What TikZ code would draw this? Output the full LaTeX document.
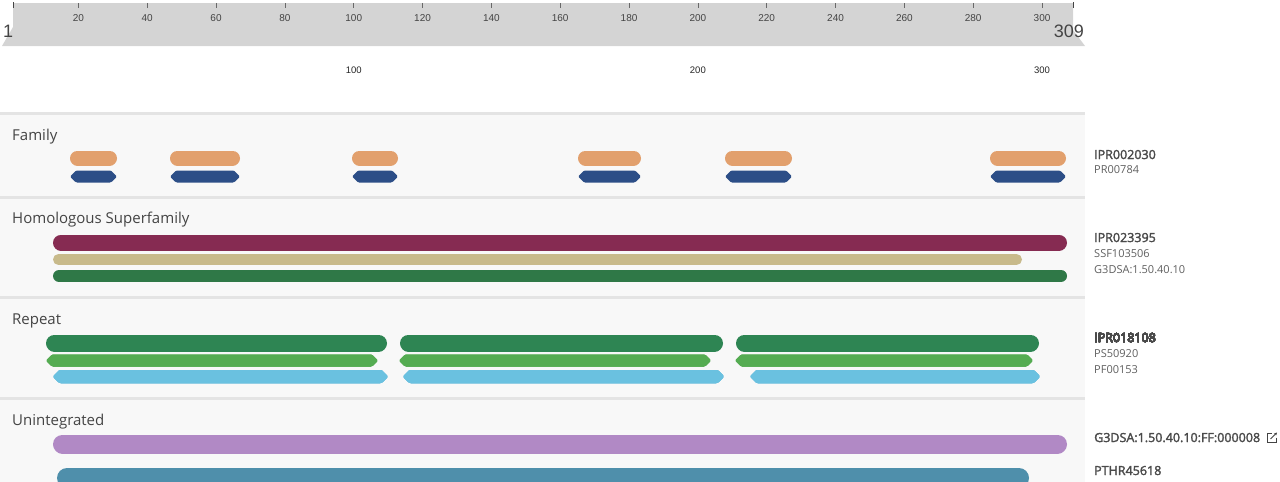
\documentclass[tikz,border=0pt]{standalone}
\usepackage{fontspec}
\setmainfont{Open Sans}
\newfontfamily\rulerfont{Liberation Sans}
\newfontfamily\accfont{Open Sans}[FakeBold=2.2]
\usetikzlibrary{arrows.meta}

\definecolor{rulergray}{HTML}{D4D4D4}
\definecolor{panelbg}{HTML}{F8F8F8}
\definecolor{sepgray}{HTML}{E4E4E4}
\definecolor{txtgray}{HTML}{444444}
\definecolor{accgray}{HTML}{4A4A4A}
\definecolor{famorange}{HTML}{E2A06D}
\definecolor{famblue}{HTML}{2C4E87}
\definecolor{supmaroon}{HTML}{862B52}
\definecolor{suptan}{HTML}{C8BA8B}
\definecolor{supgreen}{HTML}{2F7847}
\definecolor{repgreen}{HTML}{2E8553}
\definecolor{replight}{HTML}{55AC52}
\definecolor{repblue}{HTML}{6AC1E0}
\definecolor{unipurple}{HTML}{B189C5}
\definecolor{uniteal}{HTML}{4F8FAB}

% bar with round ends: x1, x2, y, height, colour
\newcommand{\roundbar}[5]{%
  \draw[#5, line width=#4, line cap=round] ({#1+#4/2},#3) -- ({#2-#4/2},#3);}
% bar with pointed ends: x1, x2, y, height, colour
\newcommand{\pointbar}[5]{%
  \fill[#5, rounded corners=1.2] (#1,#3) -- ({#1+#4/2},{#3-#4/2}) -- ({#2-#4/2},{#3-#4/2})
    -- (#2,#3) -- ({#2-#4/2},{#3+#4/2}) -- ({#1+#4/2},{#3+#4/2}) -- cycle;}

\begin{document}
\begin{tikzpicture}[x=1pt,y=-1pt,
  sectlabel/.style={anchor=base west,inner sep=0,text=txtgray,font=\fontsize{15}{17}\selectfont},
  acclabel/.style={anchor=base west,inner sep=0,text=accgray,font=\accfont\fontsize{12.5}{14}\selectfont},
  sublabel/.style={anchor=base west,inner sep=0,text=txtgray!85,font=\fontsize{11}{13}\selectfont},
  ticklabel/.style={anchor=base,inner sep=0,text=txtgray,font=\rulerfont\fontsize{10}{12}\selectfont},
  endlabel/.style={inner sep=0,text=txtgray,font=\rulerfont\fontsize{18}{20}\selectfont},
  separator/.style={sepgray,line width=3}]
\useasboundingbox (0,0) rectangle (1280,482);

% ruler
\fill[rulergray] (13,3) -- (1073,3) -- (1073,30) -- (1085,46) -- (2,46) -- (13,27) -- cycle;
\draw[txtgray,line width=0.8] (13,2) -- (13,8);
\draw[txtgray,line width=0.8] (1073,2) -- (1073,8);
\foreach \n in {20,40,...,300}{
  \draw[txtgray!80,line width=0.7] ({13+(\n-1)*3.4416},3) -- ({13+(\n-1)*3.4416},8);
  \node[ticklabel] (tick\n) at ({13+(\n-1)*3.4416},21) {\n};
}
\node[endlabel,anchor=base west] (start) at (3,37) {1};
\node[endlabel,anchor=base east] (stop) at (1084,37) {309};
\foreach \n in {100,200,300}
  \node[ticklabel,font=\rulerfont\fontsize{9.5}{11}\selectfont,text=black!85] (scale\n) at ({13+(\n-1)*3.4416},73.5) {\n};

% panels
\fill[panelbg] (0,113) rectangle (1085,482);
\foreach \y in {113,197,297,398}
  \draw[separator] (0,\y) -- (1085,\y);

% Family
\node[sectlabel] (family) at (12,140) {Family};
\foreach \xa/\xb in {70/117,170/240,352/398,578/641,725/792,990/1066}{
  \roundbar{\xa}{\xb}{158}{15}{famorange}
  \pointbar{\xa}{\xb}{176.5}{12}{famblue}
}
\node[acclabel] (famacc) at (1094,159) {IPR002030};
\node[sublabel] (famprints) at (1094,173) {PR00784};

% Homologous Superfamily
\node[sectlabel] (homsup) at (12,223) {Homologous Superfamily};
\roundbar{53}{1067}{242.5}{16}{supmaroon}
\roundbar{53}{1022}{259.5}{11}{suptan}
\roundbar{53}{1067}{276}{12}{supgreen}
\node[acclabel] (supacc) at (1094,242) {IPR023395};
\node[sublabel] (supssf) at (1094,257) {SSF103506};
\node[sublabel] (supgene) at (1094,273) {G3DSA:1.50.40.10};

% Repeat
\node[sectlabel] (rep) at (12,324) {Repeat};
\foreach \xa/\xb in {46/387,400/723,736/1039}
  \roundbar{\xa}{\xb}{343}{17}{repgreen}
\foreach \xa/\xb in {46/378,399/711,735/1033}
  \pointbar{\xa}{\xb}{360.5}{12}{replight}
\foreach \xa/\xb in {53/388,403/724,750/1040}
  \pointbar{\xa}{\xb}{376.5}{13}{repblue}
\node[acclabel] (repacc) at (1094,342) {IPR018108};
\node[sublabel] (repsite) at (1094,357) {PS50920};
\node[sublabel] (reppfam) at (1094,373) {PF00153};

% Unintegrated
\node[sectlabel] (unint) at (12,425) {Unintegrated};
\roundbar{53}{1067}{444}{19}{unipurple}
\begin{scope}
  \clip (0,0) rectangle (1280,482);
  \roundbar{57}{1029}{478}{20}{uniteal}
\end{scope}
\node[acclabel] (uniff) at (1094,442) {G3DSA:1.50.40.10:FF:000008};
\draw[txtgray,line width=0.9] (1276,437.5) -- (1276,442) -- (1267.5,442) -- (1267.5,433.5) -- (1272,433.5);
\draw[txtgray,line width=0.9,-{Stealth[length=3pt,width=3pt]}] (1270.5,439) -- (1277,432.5);
\node[acclabel] (unipthr) at (1094,475) {PTHR45618};
\end{tikzpicture}
\end{document}
